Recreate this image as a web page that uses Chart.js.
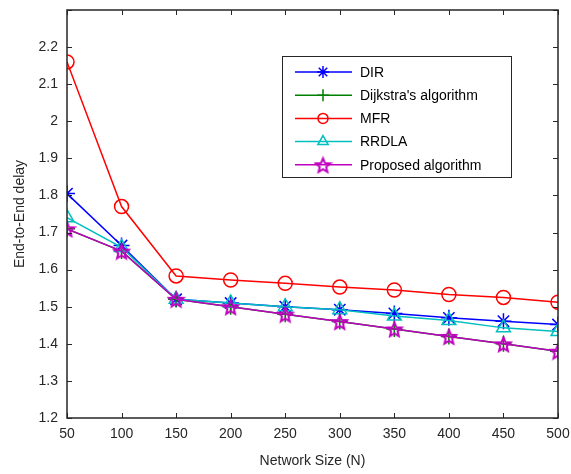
<!DOCTYPE html>
<html>
<head>
<meta charset="utf-8">
<script src="https://cdn.jsdelivr.net/npm/chart.js@4"></script>
<style>
  html, body { margin: 0; padding: 0; background: #fff; }
  #wrap { width: 571px; height: 474px; }
</style>
</head>
<body>
<div id="wrap"><canvas id="delayChart" width="571" height="474"></canvas></div>
<script>
const networkSizes = [50, 100, 150, 200, 250, 300, 350, 400, 450, 500];
const dirDelay = [1.805, 1.665, 1.52, 1.51, 1.50, 1.492, 1.482, 1.47, 1.461, 1.452];
const dijkstraDelay = [1.71, 1.65, 1.52, 1.50, 1.48, 1.46, 1.44, 1.42, 1.40, 1.38];
const mfrDelay = [2.16, 1.77, 1.583, 1.572, 1.563, 1.553, 1.545, 1.533, 1.525, 1.512];
const rrdlaDelay = [1.74, 1.66, 1.52, 1.51, 1.50, 1.492, 1.475, 1.463, 1.443, 1.433];
const proposedDelay = [1.71, 1.65, 1.52, 1.50, 1.48, 1.46, 1.44, 1.42, 1.40, 1.38];

const axisColor = '#262626';
const fontFamily = 'Arial, "Liberation Sans", Helvetica, sans-serif';

// five pointed star marker (MATLAB 'p')
function makeStar(color, r) {
    const c = document.createElement('canvas');
    const s = Math.ceil(r * 2 + 4);
    c.width = s; c.height = s;
    const g = c.getContext('2d');
    g.translate(s / 2, s / 2 + 1);
    g.beginPath();
    for (let i = 0; i < 10; i++) {
        const rad = i % 2 === 0 ? r : r * 0.45;
        const a = -Math.PI / 2 + i * Math.PI / 5;
        const px = Math.cos(a) * rad, py = Math.sin(a) * rad;
        if (i === 0) g.moveTo(px, py); else g.lineTo(px, py);
    }
    g.closePath();
    g.strokeStyle = color;
    g.lineWidth = 2;
    g.stroke();
    return c;
}
const starImg = makeStar('#BF00BF', 7.5);

function toPoints(vals) {
    return networkSizes.map((x, i) => ({ x: x, y: vals[i] }));
}

const delayData = {
    datasets: [
        { label: 'DIR', data: toPoints(dirDelay), borderColor: '#0000FF', backgroundColor: 'rgba(0,0,0,0)',
          pointStyle: 'star', pointRadius: 8, pointBorderWidth: 1.5, borderWidth: 1.5, order: 5 },
        { label: "Dijkstra's algorithm", data: toPoints(dijkstraDelay), borderColor: '#008000', backgroundColor: 'rgba(0,0,0,0)',
          pointStyle: 'cross', pointRadius: 8, pointBorderWidth: 1.5, borderWidth: 1.5, order: 4 },
        { label: 'MFR', data: toPoints(mfrDelay), borderColor: '#FF0000', backgroundColor: 'rgba(0,0,0,0)',
          pointStyle: 'circle', pointRadius: 7, pointBorderWidth: 1.5, borderWidth: 1.5, order: 3 },
        { label: 'RRDLA', data: toPoints(rrdlaDelay), borderColor: '#00BFBF', backgroundColor: 'rgba(0,0,0,0)',
          pointStyle: 'triangle', pointRadius: 8, pointBorderWidth: 1.5, borderWidth: 1.5, order: 2 },
        { label: 'Proposed algorithm', data: toPoints(proposedDelay), borderColor: '#BF00BF', backgroundColor: 'rgba(0,0,0,0)',
          pointStyle: starImg, pointRadius: 8, pointBorderWidth: 1.5, borderWidth: 1.5, order: 1 }
    ]
};

// box around the plot and inward tick marks, MATLAB style
const boxPlugin = {
    id: 'boxPlugin',
    afterDraw(chart) {
        const ctx = chart.ctx;
        const a = chart.chartArea;
        const xs = chart.scales.x, ys = chart.scales.y;
        ctx.save();
        ctx.strokeStyle = axisColor;
        ctx.lineWidth = 1;
        ctx.beginPath();
        xs.ticks.forEach(t => {
            const px = Math.round(xs.getPixelForValue(t.value)) + 0.5;
            ctx.moveTo(px, a.bottom); ctx.lineTo(px, a.bottom - 5);
            ctx.moveTo(px, a.top); ctx.lineTo(px, a.top + 5);
        });
        ys.ticks.forEach(t => {
            const py = Math.round(ys.getPixelForValue(t.value)) + 0.5;
            ctx.moveTo(a.left, py); ctx.lineTo(a.left + 5, py);
            ctx.moveTo(a.right, py); ctx.lineTo(a.right - 5, py);
        });
        ctx.stroke();
        ctx.lineWidth = 1.5;
        ctx.strokeRect(a.left, a.top, a.right - a.left, a.bottom - a.top);
        ctx.restore();
    }
};

// legend box in the upper right area
const legendBoxPlugin = {
    id: 'legendBox',
    afterDraw(chart) {
        const ctx = chart.ctx;
        const left = 282, top = 56, w = 229, h = 121;
        ctx.save();
        ctx.fillStyle = '#fff';
        ctx.fillRect(left, top, w, h);
        ctx.strokeStyle = axisColor;
        ctx.lineWidth = 1;
        ctx.strokeRect(left + 0.5, top + 0.5, w, h);
        ctx.font = '14px ' + fontFamily;
        ctx.textBaseline = 'middle';
        chart.data.datasets.forEach((ds, i) => {
            const y = 72 + i * 23.2;
            ctx.strokeStyle = ds.borderColor;
            ctx.lineWidth = 1.5;
            ctx.beginPath();
            ctx.moveTo(295, y); ctx.lineTo(352, y);
            ctx.stroke();
            if (ds.pointStyle instanceof HTMLCanvasElement) {
                ctx.drawImage(ds.pointStyle, 323 - ds.pointStyle.width / 2, y - ds.pointStyle.height / 2);
            } else {
                ctx.fillStyle = 'rgba(0,0,0,0)';
                Chart.helpers.drawPoint(ctx, {
                    pointStyle: ds.pointStyle, radius: ds.pointRadius - 2, borderWidth: 1.5, rotation: 0
                }, 323, y);
            }
            ctx.fillStyle = '#000';
            ctx.fillText(ds.label, 360, y + 1);
        });
        ctx.restore();
    }
};

const delayConfig = {
    type: 'line',
    data: delayData,
    options: {
        responsive: false,
        animation: false,
        layout: { padding: { top: 10, right: 13, left: 0, bottom: 0 } },
        scales: {
            x: {
                type: 'linear',
                min: 50,
                max: 500,
                border: { display: false },
                grid: { display: false, drawTicks: false },
                ticks: { stepSize: 50, color: axisColor, font: { size: 14, family: fontFamily }, padding: 8 },
                title: { display: true, text: 'Network Size (N)', color: axisColor, font: { size: 14, family: fontFamily }, padding: { top: 2 } },
                afterFit(scale) {
                    scale.height = 56;
                    scale.paddingLeft = 0;
                    scale.paddingRight = 0;
                }
            },
            y: {
                min: 1.2,
                max: 2.3,
                border: { display: false },
                grid: { display: false, drawTicks: false },
                ticks: {
                    stepSize: 0.1,
                    color: axisColor,
                    font: { size: 14, family: fontFamily },
                    padding: 9,
                    callback: function(value) {
                        const v = Math.round(value * 10) / 10;
                        return v > 2.25 ? '' : String(v);
                    }
                },
                title: { display: true, text: 'End-to-End delay', color: axisColor, font: { size: 14, family: fontFamily }, padding: { top: 12, bottom: 0 } },
                afterFit(scale) {
                    scale.width = 67;
                    scale.paddingTop = 0;
                    scale.paddingBottom = 0;
                }
            }
        },
        plugins: {
            legend: { display: false },
            tooltip: { enabled: false }
        }
    },
    plugins: [boxPlugin, legendBoxPlugin]
};

const delayCtx = document.getElementById('delayChart').getContext('2d');
new Chart(delayCtx, delayConfig);
</script>
</body>
</html>
